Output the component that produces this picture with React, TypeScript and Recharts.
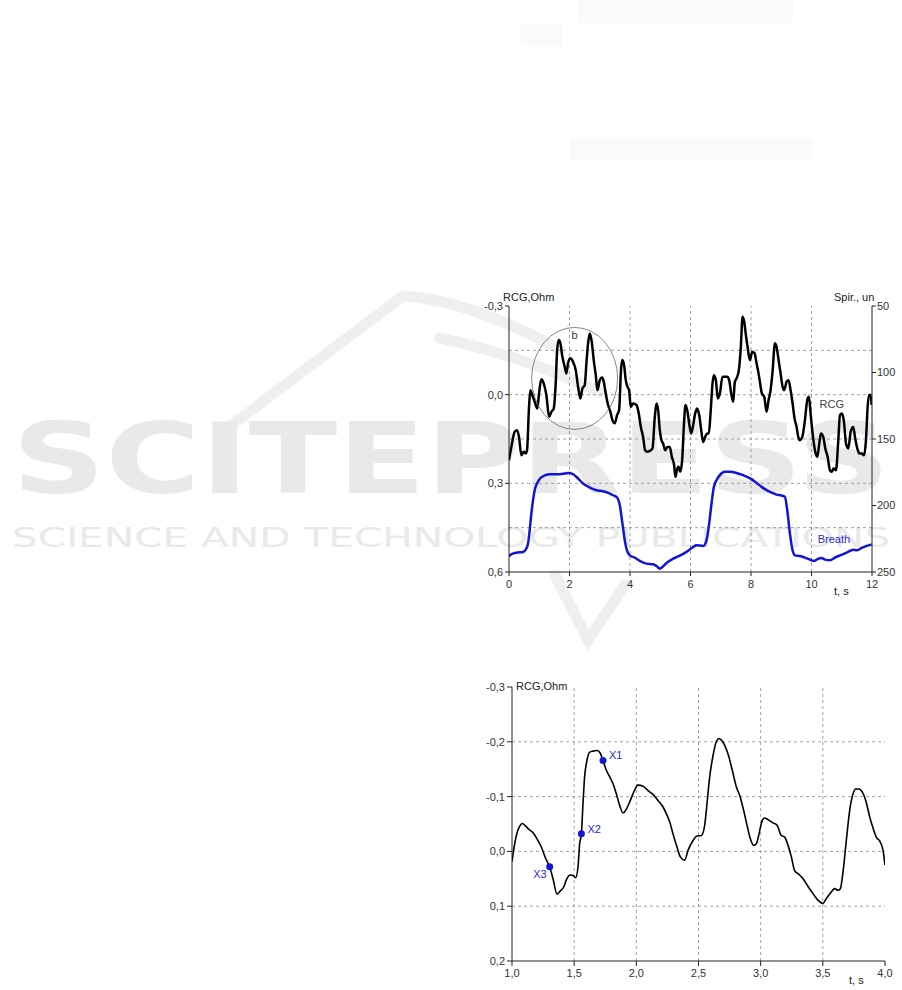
import React from 'react';
import { LineChart, Line, XAxis, YAxis, ReferenceLine, ReferenceDot } from 'recharts';

// --- top chart: RCG (left axis, Ohm) and breath (right axis, spirometer units) over 12 s
const rcgTop = [
  { t: 0.0, v: 0.222 }, { t: 0.077, v: 0.177 }, { t: 0.187, v: 0.126 }, { t: 0.265, v: 0.12 },
  { t: 0.331, v: 0.143 }, { t: 0.408, v: 0.205 }, { t: 0.485, v: 0.193 }, { t: 0.551, v: 0.199 },
  { t: 0.596, v: 0.188 }, { t: 0.662, v: 0.041 }, { t: 0.706, v: -0.015 }, { t: 0.75, v: -0.004 },
  { t: 0.849, v: 0.024 }, { t: 0.937, v: 0.047 }, { t: 0.993, v: -0.004 }, { t: 1.07, v: -0.052 },
  { t: 1.147, v: -0.038 }, { t: 1.235, v: 0.001 }, { t: 1.324, v: 0.075 }, { t: 1.401, v: 0.058 },
  { t: 1.478, v: 0.047 }, { t: 1.544, v: -0.038 }, { t: 1.588, v: -0.145 }, { t: 1.643, v: -0.185 },
  { t: 1.698, v: -0.174 }, { t: 1.765, v: -0.128 }, { t: 1.842, v: -0.094 }, { t: 1.897, v: -0.072 },
  { t: 1.952, v: -0.106 }, { t: 2.029, v: -0.123 }, { t: 2.118, v: -0.111 }, { t: 2.206, v: -0.083 },
  { t: 2.283, v: -0.027 }, { t: 2.36, v: 0.013 }, { t: 2.426, v: -0.021 }, { t: 2.504, v: -0.032 },
  { t: 2.559, v: -0.106 }, { t: 2.614, v: -0.174 }, { t: 2.669, v: -0.207 }, { t: 2.735, v: -0.179 },
  { t: 2.801, v: -0.117 }, { t: 2.868, v: -0.066 }, { t: 2.923, v: -0.015 }, { t: 3.0, v: -0.049 },
  { t: 3.077, v: -0.058 }, { t: 3.132, v: -0.044 }, { t: 3.198, v: -0.004 }, { t: 3.275, v: 0.035 },
  { t: 3.352, v: 0.058 }, { t: 3.418, v: 0.086 }, { t: 3.496, v: 0.097 }, { t: 3.573, v: 0.069 },
  { t: 3.64, v: 0.052 }, { t: 3.706, v: -0.089 }, { t: 3.75, v: -0.117 }, { t: 3.805, v: -0.1 },
  { t: 3.86, v: -0.049 }, { t: 3.915, v: -0.027 }, { t: 3.97, v: -0.015 }, { t: 4.026, v: 0.041 },
  { t: 4.103, v: 0.03 }, { t: 4.213, v: 0.035 }, { t: 4.29, v: 0.064 }, { t: 4.357, v: 0.109 },
  { t: 4.434, v: 0.143 }, { t: 4.5, v: 0.188 }, { t: 4.566, v: 0.193 }, { t: 4.654, v: 0.19 },
  { t: 4.743, v: 0.182 }, { t: 4.82, v: 0.075 }, { t: 4.875, v: 0.03 }, { t: 4.93, v: 0.052 },
  { t: 4.985, v: 0.12 }, { t: 5.04, v: 0.154 }, { t: 5.095, v: 0.165 }, { t: 5.162, v: 0.188 },
  { t: 5.239, v: 0.177 }, { t: 5.316, v: 0.177 }, { t: 5.382, v: 0.21 }, { t: 5.459, v: 0.239 },
  { t: 5.503, v: 0.278 }, { t: 5.548, v: 0.256 }, { t: 5.603, v: 0.244 }, { t: 5.658, v: 0.261 },
  { t: 5.724, v: 0.222 }, { t: 5.779, v: 0.109 }, { t: 5.834, v: 0.035 }, { t: 5.89, v: 0.052 },
  { t: 5.956, v: 0.097 }, { t: 6.022, v: 0.131 }, { t: 6.088, v: 0.103 }, { t: 6.154, v: 0.064 },
  { t: 6.22, v: 0.047 }, { t: 6.287, v: 0.069 }, { t: 6.353, v: 0.12 }, { t: 6.419, v: 0.16 },
  { t: 6.485, v: 0.143 }, { t: 6.551, v: 0.131 }, { t: 6.606, v: 0.131 }, { t: 6.662, v: 0.064 },
  { t: 6.728, v: -0.038 }, { t: 6.772, v: -0.066 }, { t: 6.838, v: -0.049 }, { t: 6.904, v: 0.013 },
  { t: 6.97, v: -0.004 }, { t: 7.059, v: -0.061 }, { t: 7.136, v: -0.061 }, { t: 7.213, v: -0.061 },
  { t: 7.279, v: -0.049 }, { t: 7.345, v: -0.004 }, { t: 7.412, v: 0.024 }, { t: 7.467, v: -0.044 },
  { t: 7.522, v: -0.055 }, { t: 7.599, v: -0.083 }, { t: 7.665, v: -0.162 }, { t: 7.72, v: -0.264 },
  { t: 7.776, v: -0.247 }, { t: 7.831, v: -0.202 }, { t: 7.886, v: -0.162 }, { t: 7.963, v: -0.117 },
  { t: 8.04, v: -0.145 }, { t: 8.118, v: -0.14 }, { t: 8.184, v: -0.106 }, { t: 8.239, v: -0.078 },
  { t: 8.294, v: -0.044 }, { t: 8.36, v: -0.004 }, { t: 8.437, v: 0.007 }, { t: 8.514, v: 0.058 },
  { t: 8.581, v: 0.018 }, { t: 8.647, v: -0.015 }, { t: 8.713, v: -0.078 }, { t: 8.79, v: -0.174 },
  { t: 8.845, v: -0.162 }, { t: 8.912, v: -0.117 }, { t: 8.978, v: -0.072 }, { t: 9.044, v: -0.027 },
  { t: 9.099, v: -0.015 }, { t: 9.176, v: -0.044 }, { t: 9.242, v: -0.049 }, { t: 9.309, v: -0.015 },
  { t: 9.375, v: 0.03 }, { t: 9.441, v: 0.081 }, { t: 9.507, v: 0.109 }, { t: 9.562, v: 0.143 },
  { t: 9.617, v: 0.154 }, { t: 9.695, v: 0.143 }, { t: 9.783, v: 0.086 }, { t: 9.86, v: 0.018 },
  { t: 9.915, v: 0.007 }, { t: 9.97, v: 0.064 }, { t: 10.037, v: 0.131 }, { t: 10.114, v: 0.188 },
  { t: 10.191, v: 0.21 }, { t: 10.257, v: 0.165 }, { t: 10.312, v: 0.131 }, { t: 10.389, v: 0.143 },
  { t: 10.456, v: 0.182 }, { t: 10.533, v: 0.21 }, { t: 10.61, v: 0.256 }, { t: 10.665, v: 0.261 },
  { t: 10.731, v: 0.25 }, { t: 10.809, v: 0.256 }, { t: 10.886, v: 0.154 }, { t: 10.941, v: 0.069 },
  { t: 11.007, v: 0.064 }, { t: 11.073, v: 0.092 }, { t: 11.14, v: 0.165 }, { t: 11.217, v: 0.182 },
  { t: 11.294, v: 0.126 }, { t: 11.382, v: 0.109 }, { t: 11.437, v: 0.143 }, { t: 11.514, v: 0.182 },
  { t: 11.58, v: 0.199 }, { t: 11.658, v: 0.199 }, { t: 11.735, v: 0.205 }, { t: 11.801, v: 0.154 },
  { t: 11.856, v: 0.041 }, { t: 11.9, v: 0.001 }, { t: 11.955, v: 0.001 }, { t: 11.989, v: 0.035 },
];

const breath = [
  { t: 0.0, s: 238.2 }, { t: 0.077, s: 236.7 }, { t: 0.187, s: 235.7 }, { t: 0.353, s: 235.2 },
  { t: 0.463, s: 234.9 }, { t: 0.551, s: 233.2 }, { t: 0.629, s: 228.7 }, { t: 0.684, s: 218.6 },
  { t: 0.739, s: 206.1 }, { t: 0.794, s: 196.0 }, { t: 0.849, s: 188.5 }, { t: 0.926, s: 183.5 },
  { t: 1.015, s: 180.0 }, { t: 1.125, s: 178.0 }, { t: 1.346, s: 176.5 }, { t: 1.676, s: 176.5 },
  { t: 1.842, s: 176.0 }, { t: 1.985, s: 175.5 }, { t: 2.118, s: 176.5 }, { t: 2.283, s: 179.7 },
  { t: 2.448, s: 183.5 }, { t: 2.669, s: 186.5 }, { t: 2.89, s: 188.5 }, { t: 3.11, s: 189.3 },
  { t: 3.276, s: 190.5 }, { t: 3.441, s: 192.3 }, { t: 3.573, s: 194.0 }, { t: 3.662, s: 199.8 },
  { t: 3.75, s: 213.6 }, { t: 3.827, s: 226.2 }, { t: 3.904, s: 234.2 }, { t: 3.993, s: 237.5 },
  { t: 4.158, s: 239.2 }, { t: 4.323, s: 241.7 }, { t: 4.544, s: 243.7 }, { t: 4.765, s: 244.2 },
  { t: 4.875, s: 245.5 }, { t: 4.985, s: 247.5 }, { t: 5.073, s: 246.2 }, { t: 5.206, s: 243.2 },
  { t: 5.426, s: 240.0 }, { t: 5.647, s: 237.7 }, { t: 5.868, s: 234.9 }, { t: 6.088, s: 231.2 },
  { t: 6.198, s: 229.9 }, { t: 6.419, s: 230.4 }, { t: 6.529, s: 226.2 }, { t: 6.617, s: 213.6 },
  { t: 6.695, s: 198.6 }, { t: 6.772, s: 186.0 }, { t: 6.86, s: 181.0 }, { t: 6.97, s: 177.2 },
  { t: 7.136, s: 174.7 }, { t: 7.301, s: 174.7 }, { t: 7.522, s: 175.5 }, { t: 7.742, s: 177.2 },
  { t: 8.018, s: 180.2 }, { t: 8.184, s: 183.0 }, { t: 8.349, s: 186.0 }, { t: 8.514, s: 188.5 },
  { t: 8.68, s: 190.3 }, { t: 8.845, s: 191.8 }, { t: 9.011, s: 192.5 }, { t: 9.121, s: 193.5 },
  { t: 9.198, s: 203.6 }, { t: 9.287, s: 221.1 }, { t: 9.375, s: 233.7 }, { t: 9.452, s: 237.5 },
  { t: 9.617, s: 238.0 }, { t: 9.783, s: 239.2 }, { t: 9.948, s: 240.7 }, { t: 10.081, s: 241.7 },
  { t: 10.224, s: 240.0 }, { t: 10.334, s: 239.5 }, { t: 10.444, s: 240.7 }, { t: 10.61, s: 241.2 },
  { t: 10.775, s: 239.2 }, { t: 10.941, s: 237.5 }, { t: 11.161, s: 235.4 }, { t: 11.382, s: 233.2 },
  { t: 11.492, s: 233.7 }, { t: 11.658, s: 231.9 }, { t: 11.823, s: 230.4 }, { t: 11.989, s: 229.2 },
];

const topXTicks = [0, 2, 4, 6, 8, 10, 12];
const topXMinor = [1, 3, 5, 7, 9, 11];
const topRcgTicks = [-0.3, 0, 0.3, 0.6];
const topRcgMinor = [-0.15, 0.15, 0.45];
const topSpirTicks = [50, 100, 150, 200, 250];
const topSpirMinor = [75, 125, 175, 225];
const topGridY = [-0.15, 0, 0.15, 0.3, 0.45];
const topGridX = [2, 4, 6, 8, 10];

// --- bottom chart: zoom of one cycle, 1..4 s
const rcgZoom = [
  { t: 1.0, v: 0.019 }, { t: 1.013, v: -0.002 }, { t: 1.035, v: -0.029 }, { t: 1.062, v: -0.046 },
  { t: 1.083, v: -0.051 }, { t: 1.11, v: -0.046 }, { t: 1.137, v: -0.04 }, { t: 1.169, v: -0.034 },
  { t: 1.201, v: -0.023 }, { t: 1.236, v: -0.008 }, { t: 1.271, v: 0.013 }, { t: 1.303, v: 0.028 },
  { t: 1.33, v: 0.05 }, { t: 1.362, v: 0.078 }, { t: 1.389, v: 0.072 }, { t: 1.416, v: 0.065 },
  { t: 1.437, v: 0.052 }, { t: 1.469, v: 0.043 }, { t: 1.491, v: 0.044 }, { t: 1.512, v: 0.048 },
  { t: 1.531, v: 0.028 }, { t: 1.544, v: -0.014 }, { t: 1.558, v: -0.032 }, { t: 1.571, v: -0.087 },
  { t: 1.584, v: -0.136 }, { t: 1.603, v: -0.166 }, { t: 1.625, v: -0.181 }, { t: 1.651, v: -0.183 },
  { t: 1.684, v: -0.184 }, { t: 1.705, v: -0.181 }, { t: 1.732, v: -0.166 }, { t: 1.759, v: -0.148 },
  { t: 1.786, v: -0.136 }, { t: 1.812, v: -0.124 }, { t: 1.839, v: -0.105 }, { t: 1.866, v: -0.084 },
  { t: 1.893, v: -0.07 }, { t: 1.914, v: -0.075 }, { t: 1.946, v: -0.09 }, { t: 1.979, v: -0.108 },
  { t: 2.013, v: -0.121 }, { t: 2.054, v: -0.119 }, { t: 2.094, v: -0.111 }, { t: 2.134, v: -0.104 },
  { t: 2.174, v: -0.093 }, { t: 2.215, v: -0.081 }, { t: 2.241, v: -0.069 }, { t: 2.268, v: -0.054 },
  { t: 2.295, v: -0.032 }, { t: 2.327, v: -0.008 }, { t: 2.354, v: 0.01 }, { t: 2.389, v: 0.016 },
  { t: 2.416, v: -0.002 }, { t: 2.456, v: -0.02 }, { t: 2.488, v: -0.028 }, { t: 2.523, v: -0.029 },
  { t: 2.55, v: -0.048 }, { t: 2.563, v: -0.075 }, { t: 2.59, v: -0.136 }, { t: 2.617, v: -0.175 },
  { t: 2.643, v: -0.2 }, { t: 2.665, v: -0.206 }, { t: 2.684, v: -0.203 }, { t: 2.71, v: -0.194 },
  { t: 2.737, v: -0.178 }, { t: 2.772, v: -0.148 }, { t: 2.804, v: -0.118 }, { t: 2.836, v: -0.099 },
  { t: 2.863, v: -0.075 }, { t: 2.89, v: -0.048 }, { t: 2.917, v: -0.023 }, { t: 2.944, v: -0.011 },
  { t: 2.965, v: -0.014 }, { t: 2.987, v: -0.032 }, { t: 3.005, v: -0.051 }, { t: 3.032, v: -0.061 },
  { t: 3.059, v: -0.058 }, { t: 3.099, v: -0.052 }, { t: 3.131, v: -0.048 }, { t: 3.166, v: -0.029 },
  { t: 3.193, v: -0.026 }, { t: 3.22, v: -0.011 }, { t: 3.247, v: 0.01 }, { t: 3.273, v: 0.035 },
  { t: 3.308, v: 0.042 }, { t: 3.341, v: 0.05 }, { t: 3.381, v: 0.064 }, { t: 3.421, v: 0.077 },
  { t: 3.461, v: 0.089 }, { t: 3.501, v: 0.095 }, { t: 3.528, v: 0.086 }, { t: 3.568, v: 0.074 },
  { t: 3.595, v: 0.068 }, { t: 3.622, v: 0.071 }, { t: 3.641, v: 0.068 }, { t: 3.662, v: 0.038 },
  { t: 3.689, v: -0.02 }, { t: 3.716, v: -0.075 }, { t: 3.743, v: -0.105 }, { t: 3.764, v: -0.114 },
  { t: 3.791, v: -0.114 }, { t: 3.818, v: -0.108 }, { t: 3.845, v: -0.093 }, { t: 3.877, v: -0.063 },
  { t: 3.903, v: -0.043 }, { t: 3.93, v: -0.026 }, { t: 3.962, v: -0.017 }, { t: 3.984, v: -0.002 },
  { t: 4.0, v: 0.025 },
];

const markers = [
  { name: 'X1', t: 1.732, v: -0.166 },
  { name: 'X2', t: 1.558, v: -0.032 },
  { name: 'X3', t: 1.303, v: 0.028 },
];
const markerLabelOffset: Record<string, { dx: number; dy: number; anchor: string }> = {
  X1: { dx: 6, dy: -5, anchor: 'start' },
  X2: { dx: 6, dy: -5, anchor: 'start' },
  X3: { dx: -3, dy: 7, anchor: 'end' },
};

const botXTicks = [1, 1.5, 2, 2.5, 3, 3.5, 4];
const botXMinor = [1.25, 1.75, 2.25, 2.75, 3.25, 3.75];
const botYTicks = [-0.3, -0.2, -0.1, 0, 0.1, 0.2];
const botYMinor = [-0.25, -0.15, -0.05, 0.05, 0.15];
const botGridY = [-0.2, -0.1, 0, 0.1];
const botGridX = [1.5, 2, 2.5, 3, 3.5];

const FONT = '"Liberation Sans", Arial, Helvetica, sans-serif';
const AXIS = '#222';
const GRID = '#8a8a8a';
const BLUE = '#1414d4';
const tickStyle = { fill: '#333', fontSize: 11, fontFamily: FONT };
const fmt = (v: number) => v.toFixed(1).replace('.', ',');

const title = (text: string, left: number, top: number, extra: React.CSSProperties = {}) => (
  <div
    style={{
      position: 'absolute', left, top, fontFamily: FONT, fontSize: 11, lineHeight: '13px',
      color: '#222', whiteSpace: 'nowrap', ...extra,
    }}
  >
    {text}
  </div>
);

const centerText = (text: string, color: string) => (props: any) => {
  const vb = props.viewBox || {};
  const cx = vb.x + (vb.width || 0) / 2;
  const cy = vb.y + (vb.height || 0) / 2;
  return (
    <text x={cx} y={cy} textAnchor="middle" dominantBaseline="central" fill={color} fontSize={11} fontFamily={FONT}>
      {text}
    </text>
  );
};

const markerText = (name: string) => (props: any) => {
  const vb = props.viewBox || {};
  const o = markerLabelOffset[name];
  const cx = vb.x + (vb.width || 0) / 2;
  const cy = vb.y + (vb.height || 0) / 2;
  return (
    <text x={cx + o.dx} y={cy + o.dy} textAnchor={o.anchor as any} dominantBaseline="central" fill="#2a2ad0" fontSize={11} fontFamily={FONT}>
      {name}
    </text>
  );
};

// faint publisher watermark behind the figure
const Watermark = () => (
  <svg width={902} height={990} style={{ position: 'absolute', left: 0, top: 0 }}>
    <rect x={578} y={0} width={215} height={23} fill="#fafafa" />
    <rect x={521} y={23} width={41} height={23} fill="#fafafa" />
    <rect x={570} y={138} width={243} height={23} fill="#fafafa" />
    <g fill="none" stroke="#efefef" strokeWidth={11} strokeLinecap="round">
      <path d="M228 428 L403 296 Q470 300 560 350" />
      <path d="M440 338 Q520 355 600 392" />
      <path d="M555 575 L588 640 L625 585" />
    </g>
    <text x={12} y={493} fontSize={98} fontWeight="bold" fill="#e9e9e9" fontFamily='"DejaVu Sans", sans-serif'
      textLength={878} lengthAdjust="spacingAndGlyphs">SCITEPRESS</text>
    <text x={12} y={547} fontSize={26} fill="#e9e9e9" fontFamily='"DejaVu Sans", sans-serif'
      textLength={878} lengthAdjust="spacingAndGlyphs">SCIENCE AND TECHNOLOGY PUBLICATIONS</text>
  </svg>
);

const TopChart = () => (
  <LineChart width={442} height={320} margin={{ top: 26, right: 0, left: 9, bottom: 4 }}>
    <XAxis xAxisId="t" type="number" dataKey="t" domain={[0, 12]} ticks={topXTicks} allowDataOverflow
      height={24} tickSize={4} tickMargin={4} stroke={AXIS} tick={tickStyle} />
    <XAxis xAxisId="tm" type="number" dataKey="t" domain={[0, 12]} ticks={topXMinor} allowDataOverflow
      height={24} mirror tick={false} axisLine={false} tickSize={3} stroke={AXIS} />
    <YAxis yAxisId="rcg" type="number" domain={[-0.3, 0.6]} reversed ticks={topRcgTicks} allowDataOverflow
      width={40} tickSize={4} tickMargin={2} tickFormatter={fmt} stroke={AXIS} tick={tickStyle} />
    <YAxis yAxisId="rcgm" type="number" domain={[-0.3, 0.6]} reversed ticks={topRcgMinor} allowDataOverflow
      width={40} mirror tick={false} axisLine={false} tickSize={3} stroke={AXIS} />
    <YAxis yAxisId="spir" orientation="right" type="number" domain={[50, 250]} reversed ticks={topSpirTicks}
      allowDataOverflow width={30} tickSize={4} tickMargin={1} stroke={AXIS}
      tick={{ ...tickStyle, textAnchor: 'start' }} />
    <YAxis yAxisId="spirm" orientation="right" type="number" domain={[50, 250]} reversed ticks={topSpirMinor}
      allowDataOverflow width={30} mirror tick={false} axisLine={false} tickSize={3} stroke={AXIS} />
    {topGridY.map((y) => (
      <ReferenceLine key={'gy' + y} xAxisId="t" yAxisId="rcg" y={y} stroke={GRID} strokeWidth={0.8} strokeDasharray="3 3" />
    ))}
    {topGridX.map((x) => (
      <ReferenceLine key={'gx' + x} xAxisId="t" yAxisId="rcg" x={x} stroke={GRID} strokeWidth={0.8} strokeDasharray="3 3" />
    ))}
    <ReferenceDot xAxisId="t" yAxisId="rcg" x={2.17} y={-0.055} r={1}
      shape={(p: any) => <ellipse cx={p.cx} cy={p.cy} rx={43} ry={51} fill="none" stroke="#666" strokeWidth={0.8} />} />
    <ReferenceDot xAxisId="t" yAxisId="rcg" x={2.17} y={-0.202} r={0} label={centerText('b', '#333')} />
    <ReferenceDot xAxisId="t" yAxisId="rcg" x={10.67} y={0.03} r={0} label={centerText('RCG', '#444')} />
    <ReferenceDot xAxisId="t" yAxisId="spir" x={10.74} y={224.9} r={0} label={centerText('Breath', '#2a2ad0')} />
    <Line xAxisId="t" yAxisId="rcg" data={rcgTop} dataKey="v" type="monotone" stroke="#000" strokeWidth={2.5}
      dot={false} isAnimationActive={false} />
    <Line xAxisId="t" yAxisId="spir" data={breath} dataKey="s" type="monotone" stroke={BLUE} strokeWidth={2.5}
      dot={false} isAnimationActive={false} />
  </LineChart>
);

const BottomChart = () => (
  <LineChart width={437} height={319} margin={{ top: 17, right: 17, left: 7, bottom: 4 }}>
    <XAxis xAxisId="t" type="number" dataKey="t" domain={[1, 4]} ticks={botXTicks} allowDataOverflow
      height={24} tickSize={5} tickMargin={3} tickFormatter={fmt} stroke={AXIS} tick={tickStyle} />
    <XAxis xAxisId="tm" type="number" dataKey="t" domain={[1, 4]} ticks={botXMinor} allowDataOverflow
      height={24} mirror tick={false} axisLine={false} tickSize={3} stroke={AXIS} />
    <YAxis yAxisId="v" type="number" domain={[-0.3, 0.2]} reversed ticks={botYTicks} allowDataOverflow
      width={40} tickSize={5} tickMargin={2} tickFormatter={fmt} stroke={AXIS} tick={tickStyle} />
    <YAxis yAxisId="vm" type="number" domain={[-0.3, 0.2]} reversed ticks={botYMinor} allowDataOverflow
      width={40} mirror tick={false} axisLine={false} tickSize={3} stroke={AXIS} />
    {botGridY.map((y) => (
      <ReferenceLine key={'gy' + y} xAxisId="t" yAxisId="v" y={y} stroke={GRID} strokeWidth={0.8} strokeDasharray="3 3" />
    ))}
    {botGridX.map((x) => (
      <ReferenceLine key={'gx' + x} xAxisId="t" yAxisId="v" x={x} stroke={GRID} strokeWidth={0.8} strokeDasharray="3 3" />
    ))}
    <Line xAxisId="t" yAxisId="v" data={rcgZoom} dataKey="v" type="monotone" stroke="#000" strokeWidth={1.6}
      dot={false} isAnimationActive={false} />
    {markers.map((m) => (
      <ReferenceDot key={m.name} xAxisId="t" yAxisId="v" x={m.t} y={m.v} r={3.5} fill={BLUE} stroke="none"
        label={markerText(m.name)} />
    ))}
  </LineChart>
);

export default function App() {
  return (
    <div style={{ position: 'absolute', left: 0, top: 0, width: 902, height: 990, background: '#fff', overflow: 'hidden' }}>
      <Watermark />
      <div style={{ position: 'absolute', left: 460, top: 280 }}>
        <TopChart />
      </div>
      <div style={{ position: 'absolute', left: 465, top: 670 }}>
        <BottomChart />
      </div>
      {title('RCG,Ohm', 503, 291)}
      {title('Spir., un', 834, 291)}
      {title('t, s', 834, 585)}
      {title('RCG,Ohm', 516, 680)}
      {title('t, s', 849, 974)}
    </div>
  );
}
